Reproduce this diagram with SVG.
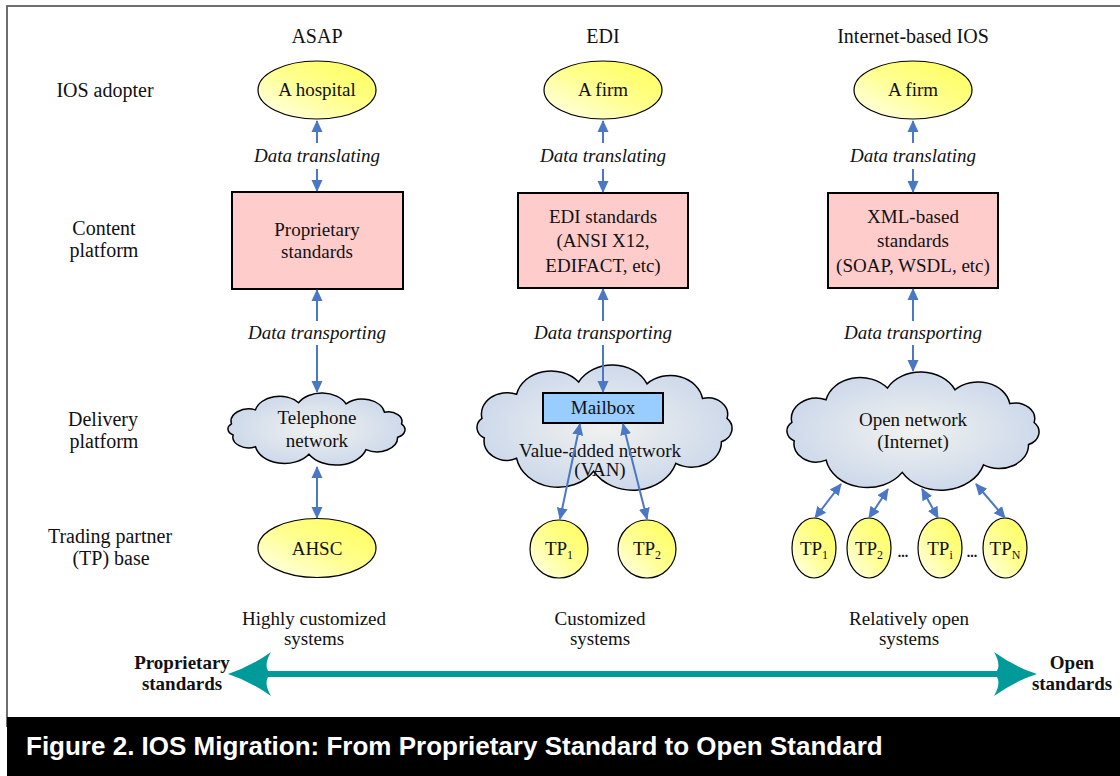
<svg xmlns="http://www.w3.org/2000/svg" xmlns:xlink="http://www.w3.org/1999/xlink" width="1120" height="776" viewBox="0 0 1120 776">
<style>
.t{font-family:"Liberation Serif","Times New Roman",serif;font-size:19px;fill:#111;text-anchor:middle}
.row{font-size:20px}
.it{font-style:italic}
.bd{font-weight:bold}
.sub{font-size:12px}
.ell{fill:url(#yel);stroke:#000;stroke-width:1.2}
.box{fill:#FFCCCC;stroke:#000;stroke-width:2}
.con{fill:none;stroke:#4A78C4;stroke-width:2;marker-start:url(#ah);marker-end:url(#ah)}
.cap{font-family:"Liberation Sans",Arial,sans-serif;font-size:26px;font-weight:bold;fill:#fff}
</style>
<defs>
<linearGradient id="yel" x1="0" y1="1" x2="1" y2="0">
<stop offset="0" stop-color="#FFFFF2"/>
<stop offset="0.5" stop-color="#FFFF90"/>
<stop offset="1" stop-color="#FFFF55"/>
</linearGradient>
<radialGradient id="cld" cx="0.5" cy="0.5" r="0.6">
<stop offset="0" stop-color="#F1F2EF"/>
<stop offset="1" stop-color="#C6D4EA"/>
</radialGradient>
<path id="cloud" fill="url(#cld)" stroke="#000" stroke-width="1.5" vector-effect="non-scaling-stroke" d="M13.3,43.4 A18,18 0 0 1 37.8,23.1 A25,25 0 0 1 81.7,12.8 A27,27 0 0 1 130.1,14.3 A23,23 0 0 1 169.3,26.6 A14,14 0 0 1 186.7,43.4 A12,12 0 0 1 182.7,63 A21,21 0 0 1 150.5,81.1 A32,32 0 0 1 92.3,87.8 A30,30 0 0 1 37.8,76.9 A16,16 0 0 1 15,59.8 A10,10 0 0 1 13.3,43.4 Z"/>
<marker id="ah" viewBox="0 0 12 12" refX="11" refY="6" markerWidth="12" markerHeight="12" markerUnits="userSpaceOnUse" orient="auto-start-reverse">
<path d="M0,0.5 L12,6 L0,11.5 Z" fill="#4A78C4"/>
</marker>
</defs>

<rect x="0" y="0" width="1120" height="776" fill="#fff"/>
<rect x="7" y="6" width="1125" height="720" fill="#fff" stroke="#6E6E6E" stroke-width="2"/>
<rect x="7" y="717" width="1113" height="59" fill="#000"/>
<text class="cap" x="26" y="755">Figure 2. IOS Migration: From Proprietary Standard to Open Standard</text>

<g id="headers">
<text class="t row" x="317" y="43">ASAP</text>
<text class="t row" x="603" y="43">EDI</text>
<text class="t row" x="913" y="43">Internet-based IOS</text>
</g>
<g id="row-labels">
<text class="t row" x="105" y="97">IOS adopter</text>
<text class="t row" x="104" y="235">Content</text>
<text class="t row" x="104" y="257">platform</text>
<text class="t row" x="103" y="426">Delivery</text>
<text class="t row" x="104" y="448">platform</text>
<text class="t row" x="110" y="543">Trading partner</text>
<text class="t row" x="111" y="565">(TP) base</text>
</g>

<g id="hospital"><ellipse class="ell" cx="317" cy="90" rx="59" ry="29"/><text class="t" x="317" y="96">A hospital</text></g>
<g id="firm-edi"><ellipse class="ell" cx="603" cy="90" rx="59" ry="29"/><text class="t" x="603" y="96">A firm</text></g>
<g id="firm-internet"><ellipse class="ell" cx="913" cy="90" rx="59" ry="29"/><text class="t" x="913" y="96">A firm</text></g>

<g id="proprietary-standards"><rect class="box" x="232" y="192" width="171" height="97"/><text class="t" x="317" y="236">Proprietary</text><text class="t" x="317" y="258">standards</text></g>
<g id="edi-standards"><rect class="box" x="518" y="193" width="170" height="95"/><text class="t" x="603" y="223">EDI standards</text><text class="t" x="603" y="247">(ANSI X12,</text><text class="t" x="603" y="272">EDIFACT, etc)</text></g>
<g id="xml-standards"><rect class="box" x="828" y="193" width="170" height="95"/><text class="t" x="913" y="223">XML-based</text><text class="t" x="913" y="247">standards</text><text class="t" x="913" y="272">(SOAP, WSDL, etc)</text></g>

<g id="telephone-network"><use xlink:href="#cloud" transform="translate(218.4,394) scale(0.981,0.686)"/><text class="t" x="317" y="424">Telephone</text><text class="t" x="317" y="447">network</text></g>
<g id="van"><use xlink:href="#cloud" transform="translate(463.15,366.8) scale(1.4135,1.19)"/><text class="t" x="600" y="457">Value-added network</text><text class="t" x="600" y="476">(VAN)</text></g>
<g id="mailbox"><rect x="543" y="393" width="120" height="30" fill="#99CCFF" stroke="#000" stroke-width="2"/><text class="t" x="603" y="414">Mailbox</text></g>
<g id="open-network"><use xlink:href="#cloud" transform="translate(773.3,373.7) scale(1.397,1.124)"/><text class="t" x="913" y="426">Open network</text><text class="t" x="913" y="448">(Internet)</text></g>

<g id="ahsc"><ellipse class="ell" cx="317" cy="548" rx="59" ry="29.5"/><text class="t" x="317" y="555">AHSC</text></g>
<g id="edi-tp1"><ellipse class="ell" cx="559" cy="549" rx="29" ry="29"/><text class="t" x="559" y="555">TP<tspan class="sub" dy="4">1</tspan></text></g>
<g id="edi-tp2"><ellipse class="ell" cx="647" cy="549" rx="29" ry="29"/><text class="t" x="647" y="555">TP<tspan class="sub" dy="4">2</tspan></text></g>
<g id="ios-tp1"><ellipse class="ell" cx="814" cy="548" rx="22" ry="30"/><text class="t" x="814" y="555">TP<tspan class="sub" dy="4">1</tspan></text></g>
<g id="ios-tp2"><ellipse class="ell" cx="869" cy="548" rx="22" ry="30"/><text class="t" x="869" y="555">TP<tspan class="sub" dy="4">2</tspan></text></g>
<g id="ios-tpi"><ellipse class="ell" cx="940" cy="548" rx="22" ry="30"/><text class="t" x="940" y="555">TP<tspan class="sub" dy="4">i</tspan></text></g>
<g id="ios-tpn"><ellipse class="ell" cx="1005" cy="548" rx="22" ry="30"/><text class="t" x="1005" y="555">TP<tspan class="sub" dy="4">N</tspan></text></g>
<g id="ellipses-dots">
<text class="t bd" x="903" y="557" style="font-size:14px">...</text>
<text class="t bd" x="972" y="557" style="font-size:14px">...</text>
</g>

<g id="connectors">
<path class="con" d="M317,121 V143 M317,169 V191"/>
<path class="con" d="M317,290 V321 M317,345 V392"/>
<path class="con" d="M317,467 V518"/>
<path class="con" d="M603,121 V143 M603,169 V192"/>
<path class="con" d="M603,289 V321 M603,345 V392"/>
<path class="con" d="M580,424 L560,519"/>
<path class="con" d="M623,424 L647,519"/>
<path class="con" d="M913,121 V143 M913,169 V192"/>
<path class="con" d="M913,289 V321 M913,345 V371"/>
<path class="con" d="M841,484 L815,518"/>
<path class="con" d="M888,489 L869,518"/>
<path class="con" d="M922,489 L938,518"/>
<path class="con" d="M976,484 L1005,518"/>
</g>
<g id="connector-labels">
<text class="t it" x="317" y="162">Data translating</text>
<text class="t it" x="603" y="162">Data translating</text>
<text class="t it" x="913" y="162">Data translating</text>
<text class="t it" x="317" y="339">Data transporting</text>
<text class="t it" x="603" y="339">Data transporting</text>
<text class="t it" x="913" y="339">Data transporting</text>
</g>

<g id="system-labels">
<text class="t" x="314" y="625">Highly customized</text>
<text class="t" x="314" y="645">systems</text>
<text class="t" x="600" y="625">Customized</text>
<text class="t" x="600" y="645">systems</text>
<text class="t" x="909" y="625">Relatively open</text>
<text class="t" x="909" y="645">systems</text>
</g>

<g id="spectrum">
<path fill="#009A9A" d="M228,674 Q250,667 271,652 Q264,664 268,671 L997,671 Q1001,664 994,652 Q1015,667 1037,674 Q1015,681 994,696 Q1001,684 997,677 L268,677 Q264,684 271,696 Q250,681 228,674 Z"/>
<text class="t bd" x="182" y="669">Proprietary</text>
<text class="t bd" x="182" y="690">standards</text>
<text class="t bd" x="1072" y="669">Open</text>
<text class="t bd" x="1072" y="690">standards</text>
</g>
</svg>
